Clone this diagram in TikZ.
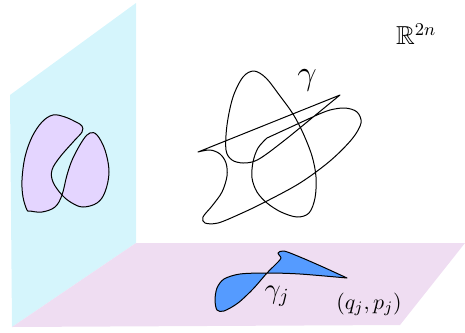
\documentclass[tikz,border=0pt]{standalone}
\usepackage{amsmath,amssymb}
\definecolor{planecyan}{RGB}{213,245,252}
\definecolor{planepink}{RGB}{239,221,242}
\definecolor{blobviolet}{RGB}{228,213,255}
\definecolor{blobblue}{RGB}{85,155,255}
\tikzset{
  curveline/.style={draw=black, line width=0.5pt, line join=round},
  lbl/.style={inner sep=0pt, outer sep=0pt}
}
\begin{document}
\begin{tikzpicture}[x=0.5pt,y=-0.5pt]
\useasboundingbox (0,0) rectangle (465,332);
% planes
\fill[planecyan] (10,95) -- (136,3) -- (136,243) -- (12,327) -- cycle;
\fill[planepink] (136,243) -- (465,243) -- (400,325) -- (12,327) -- cycle;
% projection on vertical plane
\filldraw[curveline, fill=blobviolet] plot[smooth cycle, tension=0.6] coordinates {
 (27,210) (23,197) (22,180) (25,157) (32,137) (42,122) (53,115) (65,117) (76,122) (82,126)
 (82,132) (74,141) (60,157) (52,170) (53,182) (62,195) (72,203) (83,207) (97,203) (105,192)
 (109,172) (105,150) (97,135) (90,133) (83,140) (73,158) (67,175) (62,195) (55,207) (42,212) (30,211)};
% main curve gamma
\draw[curveline] (340,95) -- (198,152)
  -- plot[smooth, tension=0.55] coordinates {(198,152) (210,150) (220,154) (226,163) (227,176) (222,192) (212,206) (203,217) (205,223) (218,223) (240,214) (265,202) (300,183) (330,161) (352,139) (361,123) (357,112) (345,108) (330,110) (317,115)}
  -- (267,138)
  -- plot[smooth, tension=0.55] coordinates {(267,138) (258,148) (253,162) (252,178) (257,192) (267,203) (281,212) (297,217) (309,213) (315,198) (316,177) (312,156) (303,133) (293,114) (280,96) (266,78) (254,71) (243,77) (233,97) (227,125) (226,150) (232,160) (243,163) (255,161) (268,153) (290,136)}
  -- cycle;
% projection on horizontal plane
\filldraw[curveline, fill=blobblue] (347,278)
  -- plot[smooth, tension=0.5] coordinates {(347,278) (300,274) (267,273) (240,274) (224,279) (217,288) (215,300) (217,310) (224,311) (238,303) (253,289) (267,273) (277,263) (281,258) (278,253) (284,251) (300,257) (323,267) (347,278)}
  -- cycle;
% labels
\node[lbl, anchor=base west] (rtn) at (396,44) {\fontsize{13}{15}\selectfont$\mathbb{R}^{2n}$};
\node[lbl] (gam) at (307,80) {\LARGE$\gamma$};
\node[lbl] (gamj) at (277,296) {\Large$\gamma_j$};
\node[lbl] (qp) at (369,304) {\fontsize{11}{13}\selectfont$(q_j,p_j)$};
\end{tikzpicture}
\end{document}
